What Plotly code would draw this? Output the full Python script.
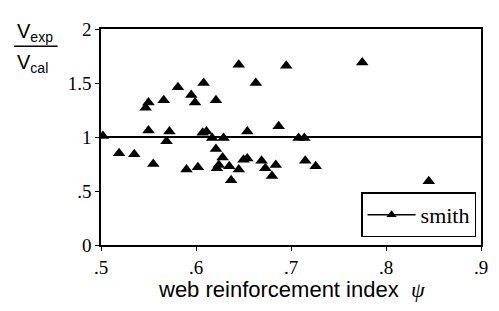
import plotly.graph_objects as go

# ---- data ----
psi = [0.502, 0.519, 0.535, 0.547, 0.550, 0.550, 0.555, 0.566, 0.572, 0.569,
       0.581, 0.590, 0.595, 0.599, 0.602, 0.608, 0.607, 0.611, 0.621, 0.617,
       0.621, 0.622, 0.624, 0.628, 0.629, 0.635, 0.637, 0.645, 0.645, 0.650,
       0.654, 0.654, 0.663, 0.669, 0.673, 0.680, 0.684, 0.687, 0.695, 0.708,
       0.714, 0.715, 0.726, 0.775, 0.845]
ratio = [1.01, 0.85, 0.84, 1.27, 1.32, 1.06, 0.75, 1.34, 1.05, 0.96,
         1.46, 0.70, 1.39, 1.32, 0.72, 1.50, 1.04, 1.05, 1.34, 0.99,
         0.89, 0.71, 0.74, 0.81, 0.99, 0.73, 0.60, 1.67, 0.70, 0.79,
         0.80, 1.05, 1.50, 0.78, 0.71, 0.64, 0.74, 1.10, 1.66, 0.99,
         0.99, 0.78, 0.73, 1.69, 0.59]
ref_x = [0.5, 0.9]
ref_y = [1.0, 1.0]
series_name = "smith"
x_ticks = [0.5, 0.6, 0.7, 0.8, 0.9]
x_ticktext = [".5", ".6", ".7", ".8", ".9"]
y_ticks = [0, 0.5, 1, 1.5, 2]
y_ticktext = ["0", ".5", "1", "1.5", "2"]

# page geometry (browser body has an 8px margin)
O = 8
PAGE_W, PAGE_H = 499, 311
W, H = PAGE_W - O, PAGE_H - O
PL, PR, PT, PB = 101, 486, 19, 245          # plot box in page pixels
L, T = PL - O, PT - O
R, B = W - (PR - O), H - (PB - O)
pw, ph = PR - PL, PB - PT

def px(x):  # page pixel -> paper x
    return (x - PL) / pw

def py(y):  # page pixel -> paper y
    return (PB - y) / ph

SERIF = "Liberation Serif"
SANS = "Liberation Sans"

fig = go.Figure()
fig.add_trace(go.Scatter(x=ref_x, y=ref_y, mode="lines",
                         line=dict(color="black", width=2), showlegend=False,
                         hoverinfo="skip"))
fig.add_trace(go.Scatter(x=psi, y=ratio, mode="markers",
                         marker=dict(symbol="triangle-up", size=11, color="black"),
                         showlegend=False))
fig.add_trace(go.Scatter(x=[None], y=[None], mode="lines+markers", name=series_name,
                         line=dict(color="black", width=1.5),
                         marker=dict(symbol="triangle-up", size=9, color="black")))

axis_common = dict(showline=True, linecolor="black", linewidth=1.5, mirror=True,
                   showgrid=False, zeroline=False, ticks="outside", ticklen=4,
                   tickcolor="black", tickfont=dict(family=SERIF, size=19, color="black"))
fig.update_xaxes(range=[0.5, 0.9], tickvals=x_ticks, ticktext=x_ticktext, **axis_common)
fig.update_yaxes(range=[0, 2], tickvals=y_ticks, ticktext=y_ticktext, **axis_common)

fig.add_annotation(text="web reinforcement index  <span style='font-family:Liberation Serif'><i>ψ</i></span>",
                   xref="paper", yref="paper", x=px(294), y=py(292),
                   showarrow=False, xanchor="center", yanchor="middle",
                   font=dict(family=SANS, size=22, color="black"))
fig.add_annotation(text="V<sub>exp</sub>", xref="paper", yref="paper",
                   x=px(14), y=py(23), showarrow=False, xanchor="left", yanchor="middle",
                   font=dict(family=SANS, size=20, color="black"))
fig.add_annotation(text="V<sub>cal</sub>", xref="paper", yref="paper",
                   x=px(14), y=py(55), showarrow=False, xanchor="left", yanchor="middle",
                   font=dict(family=SANS, size=20, color="black"))
fig.add_shape(type="line", xref="paper", yref="paper", x0=px(13), x1=px(57),
              y0=py(37), y1=py(37), line=dict(color="black", width=1.5))

fig.update_layout(
    width=W, height=H, margin=dict(l=L, r=R, t=T, b=B),
    paper_bgcolor="white", plot_bgcolor="white",
    legend=dict(x=px(481), y=py(237), xanchor="right", yanchor="bottom",
                bgcolor="white", bordercolor="black", borderwidth=1.5,
                font=dict(family=SERIF, size=22, color="black"), itemwidth=48),
)
fig.write_html("out.html")
